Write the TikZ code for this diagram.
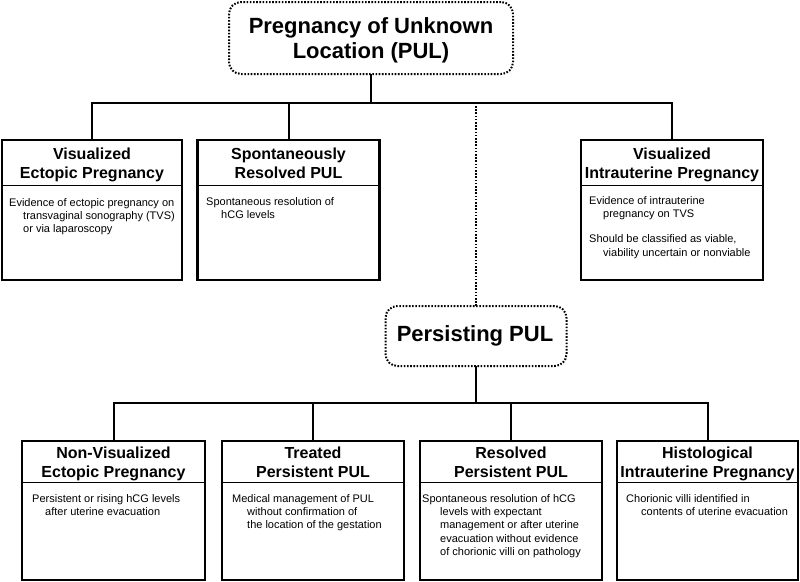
\documentclass[tikz,border=0pt]{standalone}
\usepackage{fontspec}
\setmainfont{Liberation Sans}
\begin{document}
\begin{tikzpicture}[x=1pt,y=-1pt,
  box/.style={draw, line width=2.6pt, rectangle, inner sep=0pt, outer sep=0pt, minimum width=182pt, minimum height=140pt},
  dotbox/.style={draw, line width=2pt, dash pattern=on 1.6pt off 1.6pt, rounded corners=12pt, inner sep=0pt, outer sep=0pt},
  bigtext/.style={font=\bfseries\fontsize{22}{25}\selectfont, align=center, inner sep=0pt},
  hdr/.style={font=\bfseries\fontsize{16}{19}\selectfont, align=center, inner sep=0pt},
  body/.style={font=\fontsize{11}{13.3}\selectfont, align=left, anchor=north west, inner sep=0pt},
  conn/.style={line width=2pt},
  dotconn/.style={line width=2pt, dash pattern=on 1.6pt off 1.6pt},
  divline/.style={line width=1pt}]
\useasboundingbox (0,0) rectangle (800,581);

% top node
\node[dotbox, minimum width=284pt, minimum height=72pt] (pul) at (371,38) {};
\node[bigtext] (pult) at (371,40.5) {Pregnancy of Unknown\strut\\Location (PUL)\strut};

% top row boxes
\node[box, minimum width=180pt] (ve) at (92,210) {};
\node[box] (sr) at (288.5,210) {};
\node[box] (vi) at (672,210) {};

\node[hdr] (veh) at (92,165.4) {Visualized\strut\\Ectopic Pregnancy\strut};
\node[hdr] (srh) at (288.5,165.4) {Spontaneously\strut\\Resolved PUL\strut};
\node[hdr] (vih) at (672,165.4) {Visualized\strut\\Intrauterine Pregnancy\strut};

\draw[divline] ([yshift=-45pt]ve.north west) -- ([yshift=-45pt]ve.north east);
\draw[divline] ([yshift=-45pt]sr.north west) -- ([yshift=-45pt]sr.north east);
\draw[divline] ([yshift=-45pt]vi.north west) -- ([yshift=-45pt]vi.north east);

\node[body] (veb) at (9,198) {Evidence of ectopic pregnancy on\\\hspace*{14pt}transvaginal sonography (TVS)\\\hspace*{14pt}or via laparoscopy};
\node[body] (srb) at (206,197) {Spontaneous resolution of\\\hspace*{15pt}hCG levels};
\node[body] (vib) at (589,196) {Evidence of intrauterine\\\hspace*{14pt}pregnancy on TVS\\[12pt]Should be classified as viable,\\\hspace*{14pt}viability uncertain or nonviable};

% persisting node
\node[dotbox, minimum width=181pt, minimum height=60pt] (pers) at (476,336) {};
\node[bigtext] (perst) at (475,336) {Persisting PUL\strut};

% bottom row boxes
\node[box, minimum width=183pt, minimum height=139pt] (nv) at (113.5,510.5) {};
\node[box, minimum height=139pt] (tp) at (313,510.5) {};
\node[box, minimum height=139pt] (rp) at (511,510.5) {};
\node[box, minimum width=181pt, minimum height=139pt] (hi) at (707.5,510.5) {};

\node[hdr] (nvh) at (113.5,464.5) {Non-Visualized\strut\\Ectopic Pregnancy\strut};
\node[hdr] (tph) at (313,464.5) {Treated\strut\\Persistent PUL\strut};
\node[hdr] (rph) at (511,464.5) {Resolved\strut\\Persistent PUL\strut};
\node[hdr] (hih) at (707.5,464.5) {Histological\strut\\Intrauterine Pregnancy\strut};

\draw[divline] ([yshift=-41pt]nv.north west) -- ([yshift=-41pt]nv.north east);
\draw[divline] ([yshift=-41pt]tp.north west) -- ([yshift=-41pt]tp.north east);
\draw[divline] ([yshift=-41pt]rp.north west) -- ([yshift=-41pt]rp.north east);
\draw[divline] ([yshift=-41pt]hi.north west) -- ([yshift=-41pt]hi.north east);

\node[body] (nvb) at (32,494) {Persistent or rising hCG levels\\\hspace*{13pt}after uterine evacuation};
\node[body] (tpb) at (232,494) {Medical management of PUL\\\hspace*{15pt}without confirmation of\\\hspace*{15pt}the location of the gestation};
\node[body] (rpb) at (422,494) {Spontaneous resolution of hCG\\\hspace*{18pt}levels with expectant\\\hspace*{18pt}management or after uterine\\\hspace*{18pt}evacuation without evidence\\\hspace*{18pt}of chorionic villi on pathology};
\node[body] (hib) at (626,494) {Chorionic villi identified in\\\hspace*{15pt}contents of uterine evacuation};

% connectors
\coordinate (j1) at (372,103);
\draw[conn] (pul.south) -- (pul.south |- j1);
\draw[conn] (ve.north) -- (ve.north |- j1) -- (vi.north |- j1) -- (vi.north);
\draw[conn] (sr.north) -- (sr.north |- j1);
\draw[dotconn] (pers.north) -- (pers.north |- j1);

\coordinate (j2) at (476,403);
\draw[conn] (pers.south) -- (pers.south |- j2);
\draw[conn] (nv.north) -- (nv.north |- j2) -- (hi.north |- j2) -- (hi.north);
\draw[conn] (tp.north) -- (tp.north |- j2);
\draw[conn] (rp.north) -- (rp.north |- j2);
\end{tikzpicture}
\end{document}
